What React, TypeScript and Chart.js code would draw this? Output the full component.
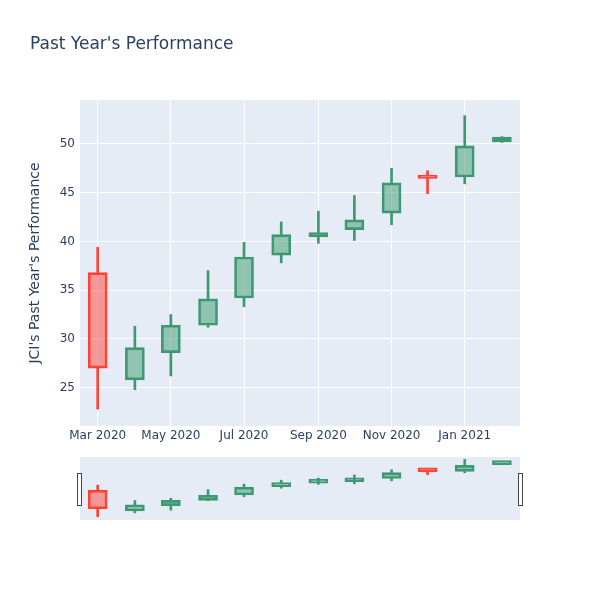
import React, { useEffect, useRef } from 'react';
import { Chart, registerables } from 'chart.js';
Chart.register(...registerables);

// ---- data ----
const dates = [
  '2020-03-01', '2020-04-01', '2020-05-01', '2020-06-01', '2020-07-01', '2020-08-01',
  '2020-09-01', '2020-10-01', '2020-11-01', '2020-12-01', '2021-01-01', '2021-02-01',
];
const opens = [36.8, 25.8, 28.6, 31.4, 34.2, 38.6, 40.45, 41.2, 42.9, 46.8, 46.6, 50.2];
const highs = [39.4, 31.3, 32.5, 37.0, 39.9, 42.0, 43.1, 44.7, 47.5, 47.25, 52.9, 50.75];
const lows = [22.8, 24.8, 26.2, 31.2, 33.3, 37.8, 39.8, 40.1, 41.7, 44.9, 45.9, 50.15];
const closes = [27.0, 29.1, 31.4, 34.1, 38.4, 40.7, 40.9, 42.2, 46.0, 46.45, 49.8, 50.7];

const xTickDates = ['2020-03-01', '2020-05-01', '2020-07-01', '2020-09-01', '2020-11-01', '2021-01-01'];
const xTickLabels = ['Mar 2020', 'May 2020', 'Jul 2020', 'Sep 2020', 'Nov 2020', 'Jan 2021'];
const yTicks = [25, 30, 35, 40, 45, 50];
const yRange = [21.07, 54.5];
const sliderYRange = [21.07, 54.2];
const xRange = ['2020-02-15T06:00:00Z', '2021-02-16T02:00:00Z'];

const titleText = "Past Year's Performance";
const yTitleText = "JCI's Past Year's Performance";

// ---- styles ----
const INC_LINE = '#3D9970';
const INC_FILL = 'rgba(61,153,112,0.5)';
const DEC_LINE = '#FF4136';
const DEC_FILL = 'rgba(255,65,54,0.5)';
const TEXT = '#2a3f5f';
const PLOT_BG = '#E5ECF6';
const FONT = '"DejaVu Sans", sans-serif';

const ts = (d: string) => Date.parse(d);

function buildDatasets(bodyWidth: number, wickWidth: number, minLen: number) {
  const xs = dates.map(ts);
  const up = closes.map((c, i) => c >= opens[i]);
  const lineColors = up.map((u) => (u ? INC_LINE : DEC_LINE));
  const fillColors = up.map((u) => (u ? INC_FILL : DEC_FILL));
  const lowerWick = xs.map((x, i) => ({ x, y: [lows[i], Math.min(opens[i], closes[i])] }));
  const upperWick = xs.map((x, i) => ({ x, y: [Math.max(opens[i], closes[i]), highs[i]] }));
  const bodies = xs.map((x, i) => ({ x, y: [opens[i], closes[i]] }));
  return [
    {
      type: 'bar' as const,
      data: lowerWick,
      backgroundColor: lineColors,
      borderWidth: 0,
      barThickness: wickWidth,
      grouped: false,
    },
    {
      type: 'bar' as const,
      data: upperWick,
      backgroundColor: lineColors,
      borderWidth: 0,
      barThickness: wickWidth,
      grouped: false,
    },
    {
      type: 'bar' as const,
      data: bodies,
      backgroundColor: fillColors,
      borderColor: lineColors,
      borderWidth: 2,
      borderSkipped: false,
      barThickness: bodyWidth,
      minBarLength: minLen,
      grouped: false,
    },
  ];
}

const plotBg = {
  id: 'plotBg',
  beforeDraw(chart: any) {
    const { ctx, chartArea } = chart;
    if (!chartArea) return;
    ctx.save();
    ctx.fillStyle = PLOT_BG;
    ctx.fillRect(chartArea.left, chartArea.top, chartArea.right - chartArea.left, chartArea.bottom - chartArea.top);
    ctx.restore();
  },
};

const sliderHandles = {
  id: 'sliderHandles',
  afterDraw(chart: any) {
    const { ctx, chartArea } = chart;
    ctx.save();
    ctx.fillStyle = '#ffffff';
    ctx.strokeStyle = '#444444';
    ctx.lineWidth = 1;
    const top = chartArea.top + 16.5;
    const h = 32;
    [chartArea.left - 2.5, chartArea.right - 1.5].forEach((x: number) => {
      ctx.fillRect(x, top, 4, h);
      ctx.strokeRect(x, top, 4, h);
    });
    ctx.restore();
  },
};

export default function App() {
  const mainRef = useRef<HTMLCanvasElement>(null);
  const sliderRef = useRef<HTMLCanvasElement>(null);

  useEffect(() => {
    const main = new Chart(mainRef.current as HTMLCanvasElement, {
      type: 'bar',
      data: { datasets: buildDatasets(19, 2, 0) as any },
      options: {
        animation: false,
        responsive: false,
        events: [],
        layout: { padding: { left: 30, right: 80, top: 0, bottom: 0 } },
        plugins: {
          legend: { display: false },
          tooltip: { enabled: false },
          title: {
            display: true,
            text: titleText,
            align: 'start',
            color: TEXT,
            font: { family: FONT, size: 17, weight: 'normal' },
            padding: { top: 34.5, bottom: 45.1 },
          },
        },
        scales: {
          x: {
            type: 'linear',
            offset: false,
            min: ts(xRange[0]),
            max: ts(xRange[1]),
            afterBuildTicks: (s: any) => {
              s.ticks = xTickDates.map((d) => ({ value: ts(d) }));
            },
            afterFit: (s: any) => {
              s.height = 174;
            },
            ticks: {
              autoSkip: false,
              maxRotation: 0,
              minRotation: 0,
              padding: 3,
              color: TEXT,
              font: { family: FONT, size: 12 },
              callback: (_v: any, i: number) => xTickLabels[i],
            },
            grid: { color: '#ffffff', lineWidth: 1, drawTicks: false, offset: false },
            border: { display: false },
          },
          y: {
            type: 'linear',
            min: yRange[0],
            max: yRange[1],
            afterBuildTicks: (s: any) => {
              s.ticks = yTicks.map((v) => ({ value: v }));
            },
            afterFit: (s: any) => {
              s.width = 50;
            },
            ticks: {
              padding: 5,
              color: TEXT,
              font: { family: FONT, size: 12 },
            },
            grid: { color: '#ffffff', lineWidth: 1, drawTicks: false },
            border: { display: false },
            title: {
              display: true,
              text: yTitleText,
              color: TEXT,
              font: { family: FONT, size: 14 },
              padding: { top: -3, bottom: 0 },
            },
          },
        },
      } as any,
      plugins: [plotBg],
    });

    const slider = new Chart(sliderRef.current as HTMLCanvasElement, {
      type: 'bar',
      data: { datasets: buildDatasets(19, 2, 4) as any },
      options: {
        animation: false,
        responsive: false,
        events: [],
        layout: { padding: { left: 10, right: 10, top: 7, bottom: 10 } },
        plugins: {
          legend: { display: false },
          tooltip: { enabled: false },
          title: { display: false },
        },
        scales: {
          x: {
            type: 'linear',
            display: false,
            offset: false,
            min: ts(xRange[0]),
            max: ts(xRange[1]),
            grid: { offset: false },
          },
          y: {
            type: 'linear',
            display: false,
            min: sliderYRange[0],
            max: sliderYRange[1],
          },
        },
      } as any,
      plugins: [plotBg, sliderHandles],
    });

    return () => {
      main.destroy();
      slider.destroy();
    };
  }, []);

  return (
    <div style={{ position: 'absolute', left: 0, top: 0, width: 600, height: 600, background: '#ffffff' }}>
      <canvas ref={mainRef} width={600} height={600} style={{ position: 'absolute', left: 0, top: 0 }} />
      <canvas ref={sliderRef} width={460} height={80} style={{ position: 'absolute', left: 70, top: 450 }} />
    </div>
  );
}
